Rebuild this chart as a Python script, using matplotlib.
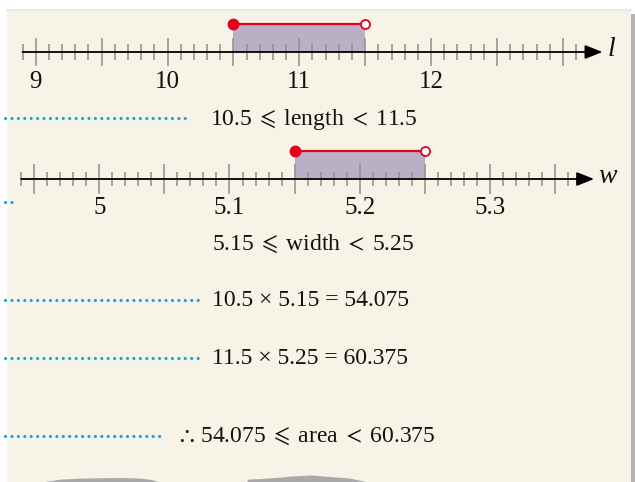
import numpy as np
import matplotlib
matplotlib.use("Agg")
import matplotlib.pyplot as plt
from matplotlib.patches import Rectangle, Polygon

plt.rcParams['mathtext.fontset'] = 'stix'

# number line data
length_labels = [9, 10, 11, 12]
length_range = [10.5, 11.5]
length_ticks_lim = [8.9, 13.1]
width_labels = [5, 5.1, 5.2, 5.3]
width_range = [5.15, 5.25]
width_ticks_lim = [4.94, 5.36]

area_low = length_range[0] * width_range[0]
area_high = length_range[1] * width_range[1]

SERIF = ['Liberation Serif', 'DejaVu Serif', 'DejaVu Sans']
CREAM = '#f7f3e7'
RED = '#e2001a'
SHADE = '#b9b0c6'
BLUE = '#17a2e3'
TICK = '#8e8e8e'
LEQ = r'$\;\leqslant\;$'
LT = r'$\;<\;$'
THEREFORE = r'$\therefore\,$'

fig = plt.figure(figsize=(6.35, 4.82), dpi=100)
fig.patch.set_facecolor('white')
ax = fig.add_axes([0, 0, 1, 1])
ax.set_xlim(0, 635)
ax.set_ylim(482, 0)
ax.axis('off')

# paper panel
ax.add_patch(Rectangle((7, 10), 624, 472, facecolor=CREAM, edgecolor='none', zorder=0))
ax.add_patch(Rectangle((631, 14), 4, 468, facecolor='#b4b4b4', edgecolor='none', zorder=0))
ax.plot([7, 631], [10, 10], color='#ece9e2', lw=1.5, zorder=0)

# torn bits at the bottom
ax.add_patch(Polygon([(45, 482), (62, 479.5), (85, 478.5), (120, 478), (140, 478.5),
                      (152, 480), (158, 482)], closed=True, facecolor='#a9a9a9',
                     edgecolor='none', zorder=1))
ax.add_patch(Polygon([(247, 482), (249, 479.5), (262, 479), (282, 477.5), (292, 476.5),
                      (312, 475.5), (330, 477), (350, 478.5), (366, 482)], closed=True,
                     facecolor='#a9a9a9', edgecolor='none', zorder=1))


def number_line(px0, px_per_unit, y_axis, y_seg, labels, rng, lims, step, major_step,
                y_label, name, minor_len, major_len):
    a = fig.add_axes([0, 0, 1, 1])
    v0 = labels[0] - px0 / px_per_unit
    a.set_xlim(v0, v0 + 635 / px_per_unit)
    a.set_ylim(482, 0)
    a.axis('off')
    a.patch.set_alpha(0)

    # shaded interval
    a.add_patch(Rectangle((rng[0], y_seg), rng[1] - rng[0], y_axis - y_seg,
                          facecolor=SHADE, edgecolor='none', zorder=1))

    n = int(round((lims[1] - lims[0]) / step))
    ticks = np.round(lims[0] + step * np.arange(n + 1), 4)
    for t in ticks:
        major = abs(t / major_step - round(t / major_step)) < 1e-6
        h = major_len if major else minor_len
        a.plot([t, t], [y_axis - h, y_axis + h], color=TICK, lw=1.1, zorder=2,
               solid_capstyle='butt')

    tip = lims[1] + 2 * step
    a.annotate('', xy=(tip, y_axis), xytext=(lims[0], y_axis),
               arrowprops=dict(arrowstyle='-|>,head_length=0.75,head_width=0.3',
                               mutation_scale=14, lw=1.3, color='black',
                               shrinkA=0, shrinkB=0), zorder=3)
    a.text(tip + 0.35 * step, y_axis + 4, name, fontsize=20, style='italic',
           family=SERIF, ha='left', va='baseline', color='#111111')

    for lab in labels:
        a.text(lab, y_label, f'{lab:g}', fontsize=18, family=SERIF,
               ha='center', va='baseline', color='#111111')

    a.plot(rng, [y_seg, y_seg], color=RED, lw=1.6, zorder=4)
    a.plot(rng[0], y_seg, 'o', ms=7.5, color=RED, zorder=5)
    a.plot(rng[1], y_seg, 'o', ms=6.5, mfc='white', mec=RED, mew=1.3, zorder=5)
    return a


number_line(35.7, 131.8, 52, 24, length_labels, length_range, length_ticks_lim,
            0.1, 0.5, 88, 'l', 8, 14)
number_line(99.3, 1302.0, 179, 151, width_labels, width_range, width_ticks_lim,
            0.01, 0.05, 214, 'w', 7, 15)

# text lines with leading dotted leaders
rows = [
    (125, 210, f'{length_range[0]:g}{LEQ}length{LT}{length_range[1]:g}', 118, 191),
    (250, 212, f'{width_range[0]:g}{LEQ}width{LT}{width_range[1]:g}', 202, 13),
    (306, 212, f'{length_range[0]:g} \u00d7 {width_range[0]:g} = {area_low:.3f}', 300, 200),
    (364, 212, f'{length_range[1]:g} \u00d7 {width_range[1]:g} = {area_high:.3f}', 358, 198),
    (442, 176, f'{THEREFORE}{area_low:.3f}{LEQ}area{LT}{area_high:.3f}', 436, 162),
]
for base, x, s, ydot, xend in rows:
    ax.text(x, base, s, fontsize=17, family=SERIF, ha='left', va='baseline',
            color='#111111', zorder=5)
    ax.plot([5, xend], [ydot, ydot], color=BLUE, lw=2.3,
            linestyle=(0, (0.01, 2.0)), dash_capstyle='round', zorder=5)

fig.savefig('out.png', dpi=100, facecolor='white')
